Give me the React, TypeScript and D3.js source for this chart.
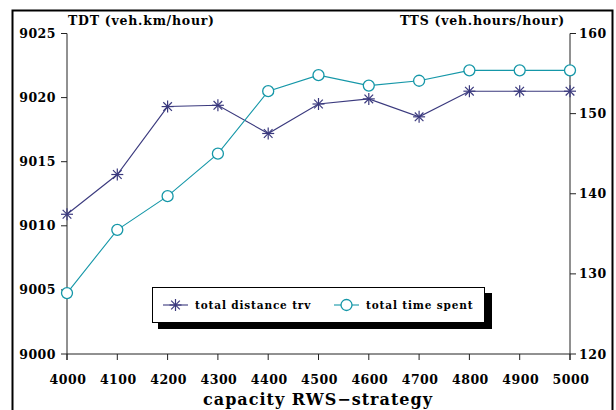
import React from "react";
import * as d3 from "d3";

const capacities = [4000, 4100, 4200, 4300, 4400, 4500, 4600, 4700, 4800, 4900, 5000];
const tdtValues = [9010.9, 9014.0, 9019.3, 9019.4, 9017.2, 9019.5, 9019.9, 9018.5, 9020.5, 9020.5, 9020.5];
const ttsValues = [127.6, 135.5, 139.7, 145.0, 152.8, 154.8, 153.5, 154.1, 155.4, 155.4, 155.4];
const leftTicks = [9000, 9005, 9010, 9015, 9020, 9025];
const rightTicks = [120, 130, 140, 150, 160];
const xTicks = [4000, 4100, 4200, 4300, 4400, 4500, 4600, 4700, 4800, 4900, 5000];

const TDT_COLOR = "#3b3a7e";
const TTS_COLOR = "#1597a8";
const FONT = "'DejaVu Serif', serif";

const Star = ({ cx, cy, r, color }: { cx: number; cy: number; r: number; color: string }) => {
  const d = r * 0.72;
  return (
    <g stroke={color} strokeWidth={1.2}>
      <line x1={cx - r} y1={cy} x2={cx + r} y2={cy} />
      <line x1={cx} y1={cy - r} x2={cx} y2={cy + r} />
      <line x1={cx - d} y1={cy - d} x2={cx + d} y2={cy + d} />
      <line x1={cx - d} y1={cy + d} x2={cx + d} y2={cy - d} />
    </g>
  );
};

export default function App() {
  const L = 67, R = 570, T = 33.5, B = 354;
  const x = d3.scaleLinear().domain([4000, 5000]).range([L, R]);
  const yL = d3.scaleLinear().domain([9000, 9025]).range([B, T]);
  const yR = d3.scaleLinear().domain([120, 160]).range([B, T]);

  const tdtLine = d3.line<number>().x((_, i) => x(capacities[i])).y((v) => yL(v));
  const ttsLine = d3.line<number>().x((_, i) => x(capacities[i])).y((v) => yR(v));

  const tickStyle = { fontFamily: FONT, fontWeight: 700, fontSize: 12.5, letterSpacing: 0.5 } as const;

  return (
    <svg width={616} height={410} style={{ position: "absolute", left: 0, top: 0, background: "#fff" }}>
      <rect x={0} y={0} width={616} height={410} fill="#fff" />
      <rect x={12.5} y={10.5} width={600} height={420} fill="none" stroke="#000" strokeWidth={2} />

      {/* axes */}
      <line x1={L} y1={T} x2={L} y2={B + 6} stroke="#222" strokeWidth={1} />
      <line x1={R} y1={T} x2={R} y2={B + 6} stroke="#222" strokeWidth={1} />
      <line x1={L} y1={B} x2={R} y2={B} stroke="#222" strokeWidth={1} />

      {leftTicks.map((t) => (
        <g key={"l" + t}>
          <line x1={L - 6} y1={yL(t)} x2={L} y2={yL(t)} stroke="#222" />
          <text x={L - 11} y={yL(t) + 4.5} textAnchor="end" {...tickStyle}>{t}</text>
        </g>
      ))}
      {rightTicks.map((t) => (
        <g key={"r" + t}>
          <line x1={R} y1={yR(t)} x2={R + 6} y2={yR(t)} stroke="#222" />
          <text x={R + 9} y={yR(t) + 4.5} textAnchor="start" {...tickStyle}>{t}</text>
        </g>
      ))}
      {xTicks.map((t) => (
        <g key={"x" + t}>
          <line x1={x(t)} y1={B} x2={x(t)} y2={B + 6} stroke="#222" />
          <text x={x(t) + 1} y={B + 30} textAnchor="middle" {...tickStyle}>{t}</text>
        </g>
      ))}

      <text x={68} y={25} fontFamily={FONT} fontWeight={700} fontSize={12.5} letterSpacing={0.76}>TDT (veh.km/hour)</text>
      <text x={565} y={25} textAnchor="end" fontFamily={FONT} fontWeight={700} fontSize={12.5} letterSpacing={0.76}>TTS (veh.hours/hour)</text>
      <text x={318} y={405} textAnchor="middle" fontFamily={FONT} fontWeight={700} fontSize={16} letterSpacing={1}>capacity RWS−strategy</text>

      {/* series */}
      <path d={tdtLine(tdtValues) || ""} fill="none" stroke={TDT_COLOR} strokeWidth={1.1} />
      <path d={ttsLine(ttsValues) || ""} fill="none" stroke={TTS_COLOR} strokeWidth={1.1} />
      {tdtValues.map((v, i) => (
        <Star key={"s" + i} cx={x(capacities[i])} cy={yL(v)} r={6} color={TDT_COLOR} />
      ))}
      {ttsValues.map((v, i) => (
        <circle key={"c" + i} cx={x(capacities[i])} cy={yR(v)} r={5.5} fill="#fff" stroke={TTS_COLOR} strokeWidth={1.3} />
      ))}

      {/* legend */}
      <rect x={158} y={293} width={334} height={36} fill="#000" />
      <rect x={152.5} y={287.5} width={332} height={35} fill="#fff" stroke="#000" strokeWidth={1} />
      <line x1={163} y1={305} x2={188} y2={305} stroke={TDT_COLOR} strokeWidth={1.1} />
      <Star cx={175.5} cy={305} r={6} color={TDT_COLOR} />
      <text x={195} y={309} fontFamily={FONT} fontWeight={700} fontSize={10.5} letterSpacing={0.85}>total distance trv</text>
      <line x1={334} y1={305} x2={359} y2={305} stroke={TTS_COLOR} strokeWidth={1.1} />
      <circle cx={346.5} cy={305} r={5.5} fill="#fff" stroke={TTS_COLOR} strokeWidth={1.3} />
      <text x={366} y={309} fontFamily={FONT} fontWeight={700} fontSize={10.5} letterSpacing={0.85}>total time spent</text>
    </svg>
  );
}
